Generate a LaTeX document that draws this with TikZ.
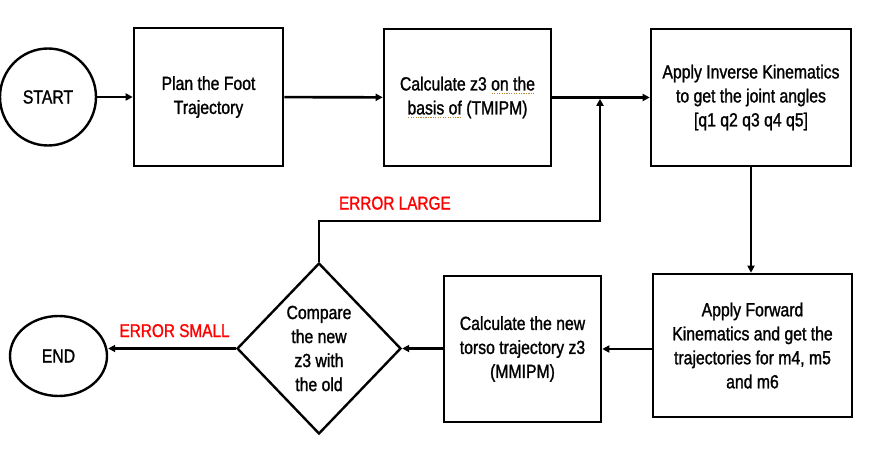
\documentclass[tikz,border=0pt]{standalone}
\usepackage{fontspec}
\setmainfont{Liberation Sans}[FakeStretch=0.83, FakeBold=1.3]
\usetikzlibrary{arrows.meta,positioning,shapes.geometric}

\definecolor{errred}{RGB}{255,0,0}
\definecolor{spellgold}{RGB}{185,135,45}

% dotted spell-check mark under a word
\newsavebox\spellbox
\newcommand{\spellmark}[1]{\sbox\spellbox{#1}\rlap{\color{spellgold}\raisebox{-3.5pt}{\hbox to \wd\spellbox{\xleaders\hbox to 2.4pt{\hss\rule{1.2pt}{1.4pt}\hss}\hfill}}}\usebox\spellbox}

\begin{document}
\begin{tikzpicture}[x=1pt, y=-1pt,
    every node/.style={font=\fontsize{19}{24}\selectfont},
    proc/.style={draw, rectangle, line width=2.6pt, align=center, inner sep=0pt},
    term/.style={draw, ellipse, line width=2.4pt, inner sep=0pt},
    test/.style={draw, diamond, line width=2.4pt, align=center, inner sep=0pt},
    flow/.style={line width=2.6pt, -{Triangle[length=7pt,width=7pt]}},
    errlabel/.style={text=errred, inner sep=0pt, font=\fontsize{18.5}{24}\selectfont}]
    \useasboundingbox (0,0) rectangle (878,476);

    % top row
    \node[term, minimum width=96pt, minimum height=97pt] (start) at (48,97) {START};
    \node[proc, minimum width=149pt, minimum height=138pt] (plan) at (208.5,97) {Plan the Foot\\Trajectory};
    \node[proc, minimum width=167pt, minimum height=137pt] (tmipm) at (467.5,97.5)
        {Calculate z3 \spellmark{on the}\\\spellmark{basis of} (TMIPM)};
    \node[proc, minimum width=200pt, minimum height=137pt] (ik) at (751,97.5)
        {Apply Inverse Kinematics\\to get the joint angles\\{[q1 q2 q3 q4 q5]}};

    % bottom row
    \node[proc, minimum width=199pt, minimum height=143pt] (fk) at (752.5,345.5)
        {Apply Forward\\Kinematics and get the\\trajectories for m4, m5\\and m6};
    \node[proc, minimum width=157pt, minimum height=146pt] (mmipm) at (522.5,349)
        {Calculate the new\\torso trajectory z3\\(MMIPM)};
    \node[test, minimum width=164pt, minimum height=171pt] (cmp) at (319,348.5)
        {Compare\\the new\\z3 with\\the old};
    \node[term, minimum width=97pt, minimum height=80pt] (end) at (58.5,356) {END};

    \coordinate (bend) at (319,221);
    \coordinate (fbtop) at (600,98.8);

    \draw[flow] (start) -- (plan);
    \draw[flow] (plan) -- (tmipm);
    \draw[flow] (tmipm) -- (ik);
    \draw[flow] (ik.south) -- (ik.south |- fk.north);
    \draw[flow] (fk.west |- mmipm.east) -- (mmipm.east);
    \draw[flow] (mmipm.west |- cmp.east) -- (cmp.east);
    \draw[flow] (cmp.west) -- node[errlabel, above=10pt, pos=0.48] {ERROR SMALL} (end.east |- cmp.west);
    \draw[flow] (cmp.north) -- (bend) -- node[errlabel, above=10pt, pos=0.27] {ERROR LARGE} (bend -| fbtop) -- (fbtop);
\end{tikzpicture}
\end{document}
